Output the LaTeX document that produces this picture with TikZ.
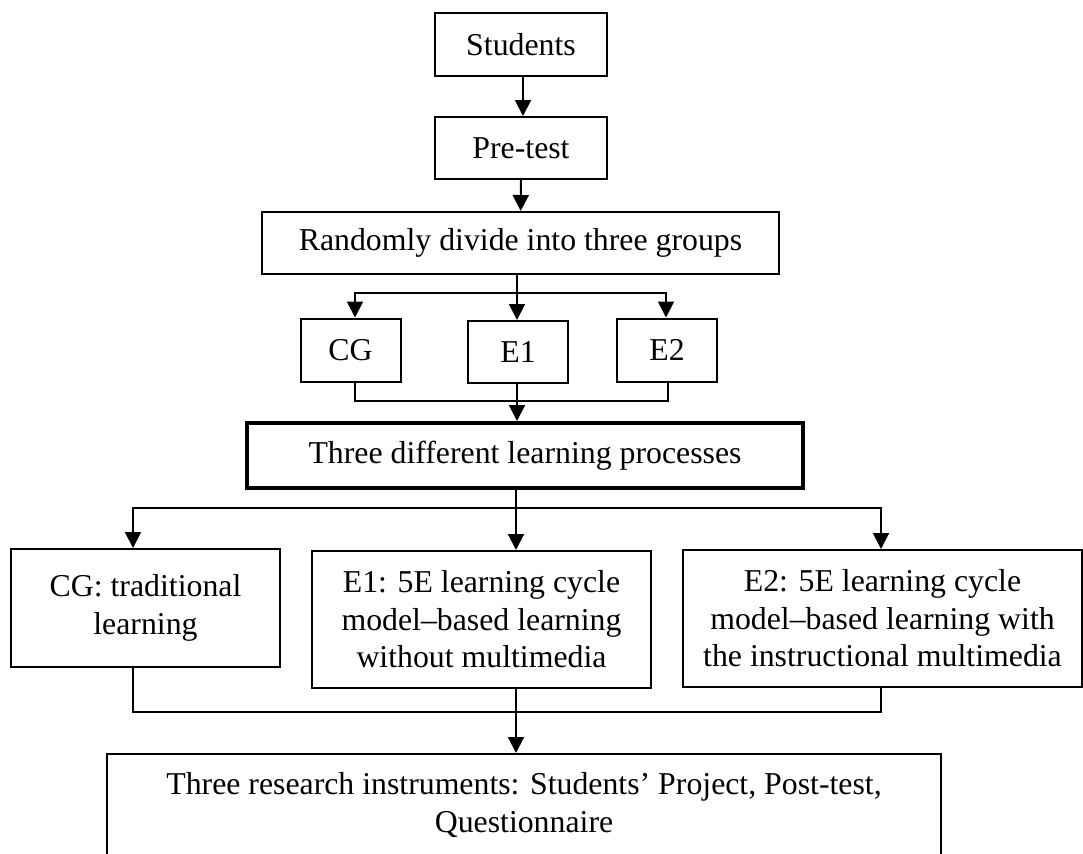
\documentclass[tikz,border=0pt]{standalone}
\usepackage{fontspec}
\setmainfont{Liberation Serif}
\usetikzlibrary{arrows.meta}
\begin{document}
\begin{tikzpicture}[x=0.5pt,y=-0.5pt,
  box/.style={draw,line width=1pt,inner sep=0pt,align=center,font=\fontsize{15.9pt}{18.8pt}\selectfont},
  thickbox/.style={box,line width=2pt},
  conn/.style={line width=1pt},
  arr/.style={conn,-{Triangle[length=8pt,width=8pt]}}]
\useasboundingbox (0,0) rectangle (1083,853);
\clip (0,0) rectangle (1083,853);
% boxes
\node[box,minimum width=86pt,minimum height=31.5pt] (stu) at (521,44.5) {Students};
\node[box,minimum width=86pt,minimum height=31pt] (pre) at (521,148) {Pre-test};
\node[box,minimum width=258.5pt,minimum height=31pt] (rand) at (520.5,243) {Randomly divide into three groups};
\node[box,minimum width=50pt,minimum height=31.5pt] (cg) at (350.5,350) {CG};
\node[box,minimum width=50pt,minimum height=31pt] (e1) at (518,352) {E1};
\node[box,minimum width=50pt,minimum height=31.5pt] (e2) at (667,350) {E2};
\node[thickbox,minimum width=278pt,minimum height=32.5pt] (three) at (525,455.5) {Three different learning processes};
\node[box,minimum width=134.5pt,minimum height=59pt] (cgt) at (145.5,608) {\raisebox{7pt}{\begin{tabular}{@{}c@{}}CG: traditional\\learning\end{tabular}}};
\node[box,minimum width=169.5pt,minimum height=68.5pt] (e1t) at (481.5,619.5) {E1: 5E learning cycle\\model--based learning\\without multimedia};
\node[box,minimum width=199.5pt,minimum height=68.5pt] (e2t) at (882.5,618.5) {E2: 5E learning cycle\\model--based learning with\\the instructional multimedia};
\node[box,minimum width=417pt,minimum height=51pt] (res) at (524,805) {Three research instruments: Students' Project, Post-test,\\Questionnaire};
% connectors
\draw[arr] (stu.south -| 523,0) -- (pre.north -| 523,0);
\draw[arr] (pre) -- (rand);
\coordinate (j1) at (517,293);
\draw[conn] (rand.south -| j1) -- (j1);
\draw[arr] (j1) -| (cg.north -| 355,0);
\draw[arr] (j1) -| (e2.north -| 666,0);
\draw[arr] (j1) -- (e1.north -| j1);
\coordinate (j2) at (517,401);
\draw[conn] (cg.south -| 355,0) |- (j2);
\draw[conn] (e2.south -| 668,0) |- (j2);
\draw[arr] (e1.south -| j2) -- (three.north -| j2);
\coordinate (j3) at (516,508);
\draw[conn] (three.south -| j3) -- (j3);
\draw[arr] (j3) -| (cgt.north -| 133,0);
\draw[arr] (j3) -| (e2t.north -| 881,0);
\draw[arr] (j3) -- (e1t.north -| j3);
\coordinate (j4) at (516,712);
\draw[conn] (cgt.south -| 133,0) |- (j4);
\draw[conn] (e2t.south -| 881,0) |- (j4);
\draw[arr] (e1t.south -| j4) -- (res.north -| j4);
\end{tikzpicture}
\end{document}
